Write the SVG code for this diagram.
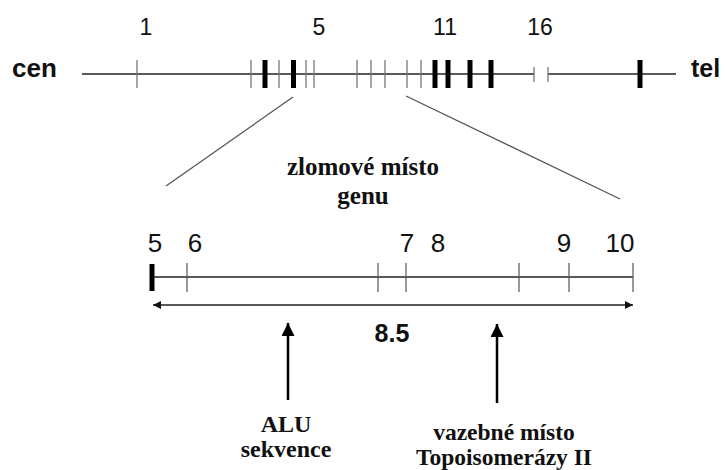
<svg xmlns="http://www.w3.org/2000/svg" width="725" height="470" viewBox="0 0 725 470">
<defs>
<style>
.sans{font-family:"Liberation Sans",Arial,sans-serif;fill:#111}
.serif{font-family:"Liberation Serif","Times New Roman",serif;font-weight:bold;fill:#111;text-anchor:middle}
.num{font-size:23px;text-anchor:middle}
.num2{font-size:26px;text-anchor:middle}
.line{stroke:#222;stroke-width:1.3;fill:none}
.thin{stroke:#777;stroke-width:1.3}
.thick{stroke:#000;stroke-width:5}
.tick{stroke:#555;stroke-width:1.2}
.zoom{stroke:#555;stroke-width:1.3}
</style>
<marker id="ah" viewBox="0 0 10 10" refX="10" refY="5" markerWidth="9" markerHeight="8" markerUnits="userSpaceOnUse" orient="auto-start-reverse">
<path d="M0,0 L10,5 L0,10 z" fill="#111"/>
</marker>
<marker id="up" viewBox="0 0 10 10" refX="10" refY="5" markerWidth="13" markerHeight="13" markerUnits="userSpaceOnUse" orient="auto">
<path d="M0,0 L10,5 L0,10 z" fill="#000"/>
</marker>
</defs>

<g id="chromosome">
<text class="sans" x="12" y="77" font-size="26" font-weight="bold">cen</text>
<text class="sans" x="691" y="77" font-size="25" font-weight="bold">tel</text>
<line class="line" x1="82" y1="74" x2="534" y2="74"/>
<line class="line" x1="548" y1="74" x2="676" y2="74"/>
<line class="thin" x1="534" y1="67" x2="534" y2="82"/>
<line class="thin" x1="548" y1="67" x2="548" y2="82"/>
<g class="thin">
<line x1="137" y1="60" x2="137" y2="88"/>
<line x1="251" y1="60" x2="251" y2="88"/>
<line x1="279" y1="60" x2="279" y2="88"/>
<line x1="306" y1="60" x2="306" y2="88"/>
<line x1="314" y1="60" x2="314" y2="88"/>
<line x1="357" y1="60" x2="357" y2="88"/>
<line x1="371" y1="60" x2="371" y2="88"/>
<line x1="385" y1="60" x2="385" y2="88"/>
<line x1="407" y1="60" x2="407" y2="88"/>
<line x1="421" y1="60" x2="421" y2="88"/>
</g>
<g class="thick">
<line x1="265" y1="60" x2="265" y2="88"/>
<line x1="293.5" y1="60" x2="293.5" y2="88"/>
<line x1="435" y1="60" x2="435" y2="88"/>
<line x1="448" y1="60" x2="448" y2="88"/>
<line x1="470" y1="60" x2="470" y2="88"/>
<line x1="491" y1="60" x2="491" y2="88"/>
<line x1="640" y1="60" x2="640" y2="88"/>
</g>
<text class="sans num" x="146" y="35">1</text>
<text class="sans num" x="319" y="35">5</text>
<text class="sans num" x="445" y="35">11</text>
<text class="sans num" x="540" y="35">16</text>
</g>

<g id="zoom-lines">
<line class="zoom" x1="293" y1="97" x2="166" y2="186"/>
<line class="zoom" x1="406" y1="96" x2="620" y2="199"/>
</g>

<g id="title">
<text class="serif" x="363" y="175" font-size="25">zlomové místo</text>
<text class="serif" x="363" y="204" font-size="25">genu</text>
</g>

<g id="gene">
<line class="line" x1="152" y1="277" x2="633" y2="277"/>
<line class="thick" x1="152" y1="264" x2="152" y2="291"/>
<g class="tick">
<line x1="187" y1="263" x2="187" y2="292"/>
<line x1="378" y1="263" x2="378" y2="292"/>
<line x1="406" y1="263" x2="406" y2="292"/>
<line x1="519" y1="263" x2="519" y2="292"/>
<line x1="569" y1="263" x2="569" y2="292"/>
<line x1="633" y1="263" x2="633" y2="292"/>
</g>
<text class="sans num2" x="155" y="252">5</text>
<text class="sans num2" x="195" y="252">6</text>
<text class="sans num2" x="407" y="252">7</text>
<text class="sans num2" x="438" y="252">8</text>
<text class="sans num2" x="564" y="252">9</text>
<text class="sans num2" x="620" y="252">10</text>
</g>

<g id="connectors">
<line class="line" x1="153" y1="305" x2="633" y2="305" marker-start="url(#ah)" marker-end="url(#ah)"/>
<line x1="288" y1="400" x2="288" y2="323" stroke="#000" stroke-width="2.5" marker-end="url(#up)"/>
<line x1="497" y1="403" x2="497" y2="324" stroke="#000" stroke-width="2.5" marker-end="url(#up)"/>
</g>

<g id="length">
<text class="sans" x="392" y="342" font-size="25" font-weight="bold" text-anchor="middle">8.5</text>
</g>

<g id="alu">
<text class="serif" x="286" y="432" font-size="24">ALU</text>
<text class="serif" x="286" y="457" font-size="24">sekvence</text>
</g>

<g id="topo">
<text class="serif" x="504" y="440" font-size="23.5">vazebné místo</text>
<text class="serif" x="504" y="465" font-size="23.5">Topoisomerázy II</text>
</g>
</svg>
